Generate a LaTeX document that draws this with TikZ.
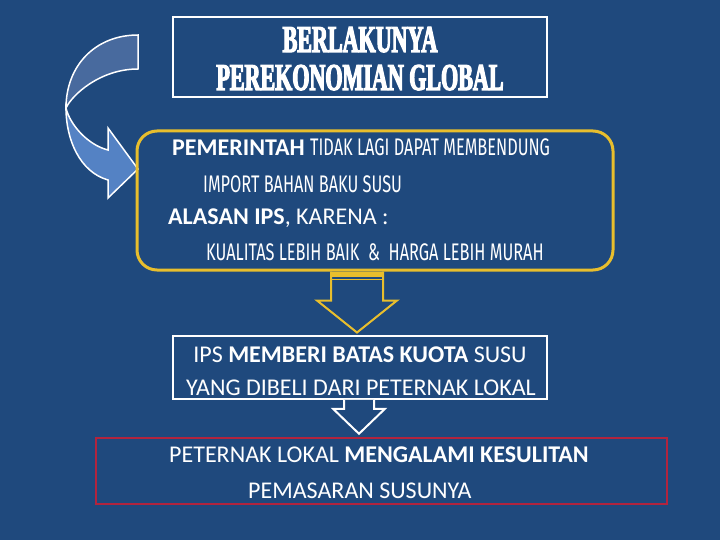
\documentclass[tikz,border=0pt]{standalone}
\usepackage{fontspec}
\setmainfont{Carlito}
\newfontfamily\agencyfont[FakeStretch=0.68]{Fira Sans}
\newfontfamily\posterfont[FakeStretch=0.58,FakeBold=3]{Liberation Serif Bold}
\usetikzlibrary{calc}

\definecolor{bgblue}{RGB}{31,73,125}
\definecolor{frontblue}{RGB}{84,130,196}
\definecolor{backblue}{RGB}{72,106,158}
\definecolor{gold}{RGB}{232,190,45}
\definecolor{crimson}{RGB}{178,36,62}

\newcommand{\titlesize}{\fontsize{38}{42}\selectfont}
\newcommand{\bodysize}{\fontsize{24}{28}\selectfont}

\begin{document}
\begin{tikzpicture}[x=1pt, y=-1pt, line join=miter,
    box/.style={draw=white, line width=1.5pt, inner sep=0pt},
    txt/.style={inner sep=0pt, anchor=base west, text=white, font=\bodysize},
    ctxt/.style={txt, anchor=base},
    goldarrow/.style={draw=gold, line width=2pt},
    whitearrow/.style={draw=white, fill=bgblue, line width=2pt},
    bendarrow/.style={draw=white, line width=1.5pt}]

  % Background
  \fill[bgblue] (0,0) rectangle (720,540);
  \useasboundingbox (0,0) rectangle (720,540);

  %%%%%%%%%%%%%%%%%%%%%%%%%%%%%%%%%%%%%%%%%%%%%%%%%
  % Title
  \node[box, minimum width=374pt, minimum height=80pt] (global) at (360,57) {};
  \node[ctxt, font=\posterfont\titlesize] (global1) at (360,52) {BERLAKUNYA};
  \node[ctxt, font=\posterfont\titlesize] (global2) at (360,90) {PEREKONOMIAN GLOBAL};

  % Curved arrow
  \fill[backblue, bendarrow] (138,35) .. controls (95,35) and (66,66) .. (66,108)
      .. controls (72,95) and (100,69) .. (138,69) -- cycle;
  \fill[frontblue, bendarrow] (66,108) .. controls (70,125) and (88,145) .. (108,150)
      -- (108,128) -- (138,169) -- (108,198) -- (108,180)
      .. controls (80,172) and (66,140) .. (66,108) -- cycle;

  %%%%%%%%%%%%%%%%%%%%%%%%%%%%%%%%%%%%%%%%%%%%%%%%%
  % Import box
  \node[draw=gold, line width=3pt, rounded corners=20pt, inner sep=0pt,
        minimum width=476pt, minimum height=139pt] (impor) at (375,200.5) {};
  \node[txt] (impor1) at (172,156) {\textbf{PEMERINTAH} {\agencyfont TIDAK LAGI DAPAT MEMBENDUNG}};
  \node[txt, font=\agencyfont\bodysize] (impor2) at (203,193) {IMPORT BAHAN BAKU SUSU};
  \node[txt] (alasan) at (168,225) {\textbf{ALASAN IPS}, KARENA :};
  \node[txt, font=\agencyfont\bodysize] (kualitas) at (206,260) {KUALITAS LEBIH BAIK \ \& \ HARGA LEBIH MURAH};

  %%%%%%%%%%%%%%%%%%%%%%%%%%%%%%%%%%%%%%%%%%%%%%%%%
  % Quota box
  \node[box, minimum width=374pt, minimum height=63pt] (kuota) at (360,367.5) {};
  \node[ctxt] (kuota1) at (360,362) {IPS \textbf{MEMBERI BATAS KUOTA} SUSU};
  \node[ctxt] (kuota2) at (361,395) {YANG DIBELI DARI PETERNAK LOKAL};

  % Arrow import -> quota
  \path (kuota.north |- impor.south) ++(-3,0) coordinate (ytop);
  \fill[gold] (ytop) ++(-26,0) rectangle ++(52,5);
  \draw[gold, line width=1.5pt] (ytop) ++(-26,8) -- ++(52,0);
  \draw[goldarrow] (ytop) ++(-26,0) -- ++(0,29) -- ++(-14,0) -- ++(40,32)
      -- ++(40,-32) -- ++(-14,0) -- ++(0,-29);

  %%%%%%%%%%%%%%%%%%%%%%%%%%%%%%%%%%%%%%%%%%%%%%%%%
  % Result box
  \node[draw=crimson, line width=2.5pt, inner sep=0pt,
        minimum width=571pt, minimum height=66pt] (sulit) at (381.5,471) {};
  \node[txt] (sulit1) at (169,462) {PETERNAK LOKAL \textbf{MENGALAMI KESULITAN}};
  \node[txt] (sulit2) at (248,498) {PEMASARAN SUSUNYA};

  % Arrow quota -> result
  \path (kuota.south) ++(-1,0) coordinate (wtop);
  \draw[whitearrow] (wtop) ++(-15,0) -- ++(0,9) -- ++(-11,0) -- ++(26,25)
      -- ++(26,-25) -- ++(-11,0) -- ++(0,-9);

\end{tikzpicture}
\end{document}
